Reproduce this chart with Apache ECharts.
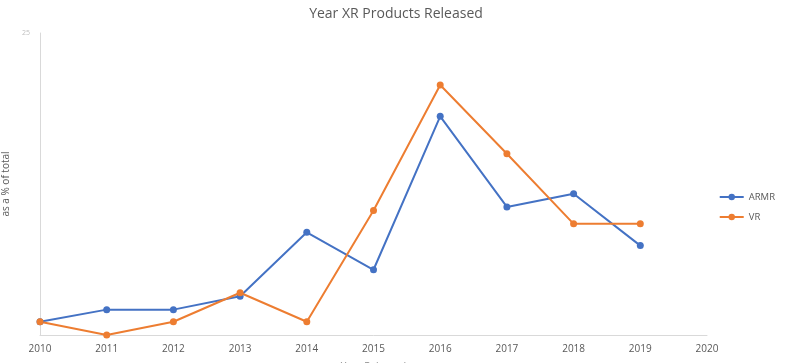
<!DOCTYPE html>
<html>
<head>
<meta charset="utf-8">
<script src="https://cdn.jsdelivr.net/npm/echarts@6/dist/echarts.min.js"></script>
<style>html,body{margin:0;padding:0;background:#fff}#c{width:792px;height:363px}</style>
</head>
<body>
<div id="c"></div>
<script>
const years = ['2010','2011','2012','2013','2014','2015','2016','2017','2018','2019','2020'];
const armr = [1.1, 2.1, 2.1, 3.2, 8.5, 5.4, 18.1, 10.6, 11.7, 7.4];
const vr = [1.1, 0, 1.1, 3.5, 1.1, 10.3, 20.7, 15.0, 9.2, 9.2];
const yMax = 25;

const chart = echarts.init(document.getElementById('c'));
const font = '"Open Sans", "Noto Sans", sans-serif';
chart.setOption({
  animation: false,
  textStyle: { fontFamily: font },
  title: {
    text: 'Year XR Products Released',
    left: 'center', top: 2,
    textStyle: { fontFamily: font, fontSize: 14, fontWeight: 'normal', color: '#595959' }
  },
  legend: {
    orient: 'vertical', right: 12, top: 187, itemGap: 10,
    itemWidth: 24, itemHeight: 8,
    textStyle: { fontFamily: font, fontSize: 9.5, color: '#595959' },
    data: ['ARMR', 'VR']
  },
  grid: { left: 40, right: 85, top: 33, bottom: 28, containLabel: false, outerBoundsMode: 'none' },
  xAxis: {
    type: 'category', data: years, boundaryGap: false,
    name: 'Year Released', nameLocation: 'middle', nameGap: 27,
    nameTextStyle: { fontFamily: font, fontSize: 10, color: '#8c8c8c' },
    axisLine: { lineStyle: { color: '#d9d9d9', width: 1 } },
    axisTick: { show: false },
    axisLabel: { fontFamily: font, fontSize: 10, color: '#595959', margin: 9 },
    splitLine: { show: false }
  },
  yAxis: {
    type: 'value', min: 0, max: yMax, interval: 5,
    name: 'as a % of total', nameLocation: 'middle', nameGap: 10,
    nameTextStyle: { fontFamily: font, fontSize: 10, color: '#595959' },
    axisLine: { show: true, lineStyle: { color: '#d9d9d9', width: 1 } },
    axisTick: { show: false },
    axisLabel: { fontFamily: font, fontSize: 7, color: '#bfbfbf', margin: 10,
      formatter: v => v === yMax ? String(v) : '' },
    splitLine: { show: false }
  },
  series: [
    { name: 'ARMR', type: 'line', data: armr, symbol: 'circle', symbolSize: 7,
      itemStyle: { color: '#4472C4' }, lineStyle: { color: '#4472C4', width: 2 } },
    { name: 'VR', type: 'line', data: vr, symbol: 'circle', symbolSize: 7,
      itemStyle: { color: '#ED7D31' }, lineStyle: { color: '#ED7D31', width: 2 } }
  ]
});
</script>
</body>
</html>
